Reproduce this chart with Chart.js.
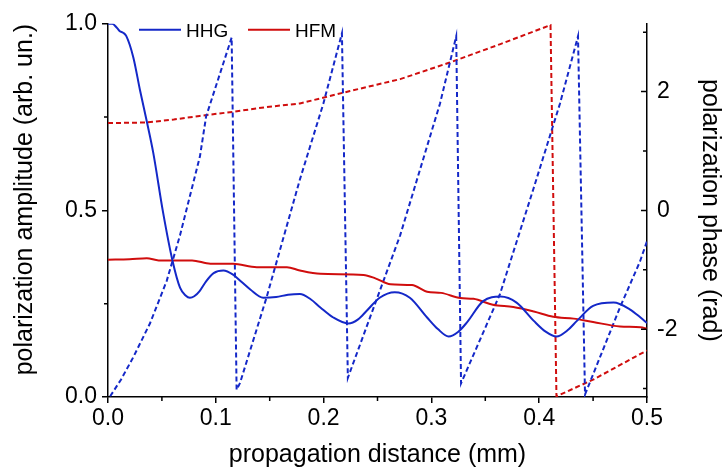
<!DOCTYPE html>
<html>
<head>
<meta charset="utf-8">
<title>polarization amplitude / phase</title>
<script src="https://cdn.jsdelivr.net/npm/chart.js@4.4.0/dist/chart.umd.min.js"></script>
<style>
  html, body { margin: 0; padding: 0; background: #fff; }
</style>
</head>
<body>
<canvas id="chart" width="722" height="475"></canvas>
<script>
// values
const hhgAmpDist = [0, 0.004, 0.008, 0.011, 0.014, 0.017, 0.0235, 0.0297, 0.036, 0.042, 0.051, 0.060,
    0.0668, 0.072, 0.076, 0.080, 0.085, 0.091, 0.098, 0.107, 0.116, 0.124, 0.132, 0.144,
    0.156, 0.167, 0.178, 0.188, 0.197, 0.209, 0.223, 0.232, 0.240, 0.252, 0.266, 0.280,
    0.296, 0.306, 0.316, 0.325, 0.333, 0.348, 0.364, 0.379, 0.395, 0.406, 0.416, 0.426,
    0.435, 0.450, 0.469, 0.484, 0.494, 0.5];
const hhgAmp = [1.0, 1.0, 0.99, 0.98, 0.976, 0.967, 0.91, 0.822, 0.738, 0.654, 0.496, 0.363,
    0.293, 0.272, 0.266, 0.270, 0.284, 0.310, 0.332, 0.339, 0.328, 0.308, 0.288, 0.266,
    0.268, 0.274, 0.276, 0.262, 0.240, 0.213, 0.197, 0.208, 0.231, 0.266, 0.281, 0.266,
    0.213, 0.182, 0.162, 0.175, 0.200, 0.257, 0.269, 0.253, 0.204, 0.175, 0.162, 0.178,
    0.204, 0.244, 0.253, 0.235, 0.213, 0.198];

const hfmAmpDist = [0, 0.02, 0.036, 0.047, 0.078, 0.095, 0.116, 0.138, 0.166, 0.178, 0.197, 0.237,
    0.248, 0.262, 0.282, 0.296, 0.309, 0.327, 0.339, 0.357, 0.376, 0.395, 0.413, 0.432,
    0.450, 0.475, 0.494, 0.5];
const hfmAmp = [0.368, 0.369, 0.372, 0.366, 0.366, 0.357, 0.357, 0.348, 0.348, 0.339, 0.330, 0.327,
    0.318, 0.302, 0.300, 0.282, 0.279, 0.265, 0.263, 0.247, 0.241, 0.229, 0.215, 0.210,
    0.201, 0.189, 0.187, 0.183];

const hhgPhaseDist = [0.002, 0.012, 0.0235, 0.039, 0.0544, 0.0668, 0.0853, 0.091, 0.1147,
    0.1193, 0.1224, 0.147, 0.178, 0.1998, 0.217,
    0.2225, 0.271, 0.308, 0.323,
    0.3275, 0.3636, 0.3946, 0.4193, 0.436,
    0.4425, 0.475, 0.4935, 0.5];
const hhgPhase = [-3.13, -2.85, -2.47, -1.9, -1.19, -0.42, 0.91, 1.58, 2.91,
    -3.02, -2.91, -1.47, 0.52, 1.80, 2.98,
    -2.82, -0.42, 1.80, 2.93,
    -2.91, -1.41, 0.36, 1.80, 2.93,
    -3.10, -1.63, -0.86, -0.52];

const hfmPhaseDist = [0, 0.036, 0.061, 0.085, 0.116, 0.147, 0.178, 0.2245, 0.271, 0.317, 0.364, 0.4105,
    0.416, 0.450, 0.4935, 0.5];
const hfmPhase = [1.47, 1.48, 1.53, 1.59, 1.66, 1.74, 1.80, 2.01, 2.21, 2.49, 2.80, 3.12,
    -3.13, -2.85, -2.42, -2.36];

// tick labels
const distTicks = [0, 0.1, 0.2, 0.3, 0.4, 0.5];
const distMinor = [0.05, 0.15, 0.25, 0.35, 0.45];
const ampTicks = [0, 0.5, 1.0];
const ampMinor = [0.25, 0.75];
const phaseTicks = [-2, 0, 2];
const phaseMinor = [-3, -1, 1, 3];

const BLUE = '#1428c8';
const RED = '#d00d0d';
const FONT = '"Liberation Sans", Arial, sans-serif';

const toPoints = (xs, ys) => xs.map((x, i) => ({ x: x, y: ys[i] }));

// extra tick marks (minor + inward right ticks) and the in-plot legend
const axisExtras = {
    id: 'axisExtras',
    afterDraw(chart) {
        const { ctx, chartArea: a, scales } = chart;
        ctx.save();
        ctx.strokeStyle = '#000';
        ctx.lineWidth = 1.5;
        ctx.beginPath();
        distMinor.forEach(v => {
            const px = scales.x.getPixelForValue(v);
            ctx.moveTo(px, a.bottom);
            ctx.lineTo(px, a.bottom + 4);
        });
        ampMinor.forEach(v => {
            const py = scales.y.getPixelForValue(v);
            ctx.moveTo(a.left, py);
            ctx.lineTo(a.left - 4, py);
        });
        phaseTicks.forEach(v => {
            const py = scales.y2.getPixelForValue(v);
            ctx.moveTo(a.right, py);
            ctx.lineTo(a.right - 6, py);
        });
        phaseMinor.forEach(v => {
            const py = scales.y2.getPixelForValue(v);
            ctx.moveTo(a.right, py);
            ctx.lineTo(a.right - 4, py);
        });
        ctx.stroke();

        // legend: only the solid (amplitude) curves
        ctx.font = '19px ' + FONT;
        ctx.textBaseline = 'alphabetic';
        ctx.textAlign = 'left';
        let x = a.left + 31;
        const y = a.top + 6;
        chart.data.datasets.filter(d => d.inLegend).forEach(d => {
            ctx.strokeStyle = d.borderColor;
            ctx.lineWidth = 2;
            ctx.beginPath();
            ctx.moveTo(x, y);
            ctx.lineTo(x + 42, y);
            ctx.stroke();
            ctx.fillStyle = '#000';
            ctx.fillText(d.label, x + 47, y + 7);
            x += 109;
        });
        ctx.restore();
    }
};

const solid = (label, color, pts) => ({
    label: label, data: pts, yAxisID: 'y', inLegend: true,
    borderColor: color, borderWidth: 2, pointRadius: 0,
    cubicInterpolationMode: 'monotone'
});
const dashed = (label, color, pts) => ({
    label: label, data: pts, yAxisID: 'y2', inLegend: false,
    borderColor: color, borderWidth: 2, borderDash: [5, 3], pointRadius: 0,
    tension: 0
});

const tickFont = { family: FONT, size: 23 };
const titleFont = { family: FONT, size: 25, lineHeight: 1 };

new Chart(document.getElementById('chart'), {
    type: 'line',
    data: {
        datasets: [
            solid('HHG', BLUE, toPoints(hhgAmpDist, hhgAmp)),
            solid('HFM', RED, toPoints(hfmAmpDist, hfmAmp)),
            dashed('HHG phase', BLUE, toPoints(hhgPhaseDist, hhgPhase)),
            dashed('HFM phase', RED, toPoints(hfmPhaseDist, hfmPhase))
        ]
    },
    options: {
        responsive: false,
        animation: false,
        layout: { padding: { top: 19, left: 0, right: 0, bottom: 0 } },
        plugins: { legend: { display: false }, tooltip: { enabled: false } },
        scales: {
            x: {
                type: 'linear', min: 0, max: 0.5,
                afterBuildTicks: s => { s.ticks = distTicks.map(v => ({ value: v })); },
                afterFit: s => { s.height = 78; },
                ticks: { color: '#000', font: tickFont, padding: 2, maxRotation: 0,
                         callback: v => v.toFixed(1) },
                grid: { drawOnChartArea: false, tickLength: 6, color: '#000', lineWidth: 1.5 },
                border: { color: '#000', width: 1.5 },
                title: { display: true, text: 'propagation distance (mm)', color: '#000',
                         font: titleFont, padding: { top: 0, bottom: 7 } }
            },
            y: {
                position: 'left', min: 0, max: 1,
                afterBuildTicks: s => { s.ticks = ampTicks.map(v => ({ value: v })); },
                afterFit: s => { s.width = 108; },
                ticks: { color: '#000', font: tickFont, padding: 5,
                         callback: v => v.toFixed(1) },
                grid: { drawOnChartArea: false, tickLength: 6, color: '#000', lineWidth: 1.5 },
                border: { color: '#000', width: 1.5 },
                title: { display: true, text: 'polarization amplitude (arb. un.)', color: '#000',
                         align: 'end', font: titleFont, padding: { top: 13, bottom: 0 } }
            },
            y2: {
                position: 'right', min: -Math.PI, max: Math.PI,
                afterBuildTicks: s => { s.ticks = phaseTicks.map(v => ({ value: v })); },
                afterFit: s => { s.width = 75; },
                ticks: { color: '#000', font: tickFont, padding: 10,
                         callback: v => String(v) },
                grid: { drawOnChartArea: false, drawTicks: false },
                border: { color: '#000', width: 1.5 },
                title: { display: true, text: 'polarization phase (rad)', color: '#000',
                         font: titleFont, padding: { top: 0, bottom: 0 } }
            }
        }
    },
    plugins: [axisExtras]
});
</script>
</body>
</html>
